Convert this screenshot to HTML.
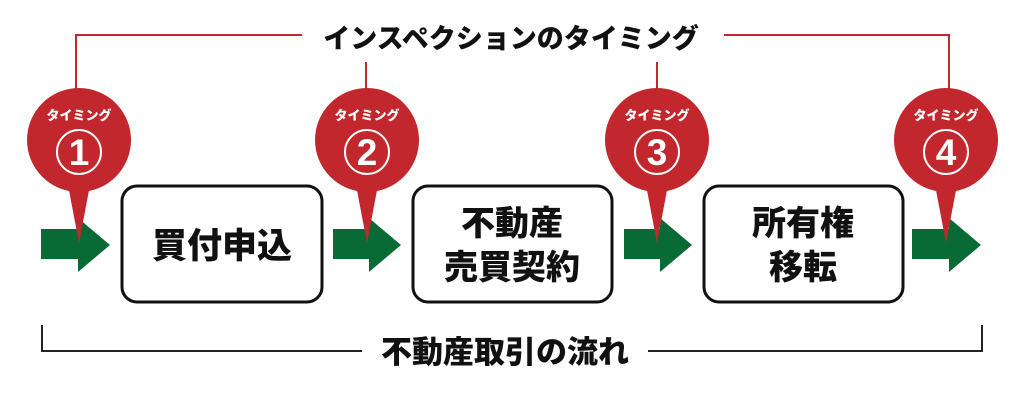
<!DOCTYPE html>
<html><head><meta charset="utf-8"><style>
html,body{margin:0;padding:0;background:#fff;}
svg{display:block;}
text{font-family:"Liberation Sans","Noto Sans CJK JP",sans-serif;font-weight:900;}
</style></head><body>
<svg width="1024" height="401" viewBox="0 0 1024 401" xmlns="http://www.w3.org/2000/svg">
<g stroke="#c1272d" stroke-width="2" fill="none">
<polyline points="76,90 76,35 302,35"/>
<line x1="366" y1="62" x2="366" y2="90"/>
<line x1="657" y1="62" x2="657" y2="90"/>
<polyline points="724,35 949,35 949,90"/>
</g>
<text x="511" y="48" font-size="27" text-anchor="middle" fill="#111">インスペクションのタイミング</text>
<g fill="#fff" stroke="#111" stroke-width="3">
<rect x="122" y="186" width="200" height="116" rx="15"/>
<rect x="413" y="186" width="199" height="116" rx="15"/>
<rect x="704" y="186" width="199" height="116" rx="15"/>
</g>
<g font-size="35" fill="#111" text-anchor="middle">
<text x="222" y="258">買付申込</text>
</g>
<g font-size="34" fill="#111" text-anchor="middle">
<text x="512" y="235">不動産</text>
<text x="512" y="279">売買契約</text>
<text x="803" y="235">所有権</text>
<text x="803" y="279">移転</text>
</g>
<g fill="#086b35">
<polygon points="41,229 78,229 78,218 110,245 78,272 78,259 41,259"/>
<polygon points="333,229 369,229 369,218 401,245 369,272 369,259 333,259"/>
<polygon points="624,229 660,229 660,218 692,245 660,272 660,259 624,259"/>
<polygon points="912,229 949,229 949,218 981,245 949,272 949,259 912,259"/>
</g>
<g fill="#c1272d">
<circle cx="79" cy="140" r="52"/><polygon points="68,185 90,185 79,243"/>
<circle cx="367" cy="140" r="52"/><polygon points="356,185 378,185 367,243"/>
<circle cx="657" cy="140" r="52"/><polygon points="646,185 668,185 657,243"/>
<circle cx="946" cy="140" r="52"/><polygon points="935,185 957,185 946,243"/>
</g>
<g fill="none" stroke="#fff" stroke-width="2">
<circle cx="79" cy="152" r="22"/><circle cx="367" cy="152" r="22"/>
<circle cx="657" cy="152" r="22"/><circle cx="946" cy="152" r="22"/>
</g>
<g fill="#fff" text-anchor="middle">
<g font-size="13">
<text x="79" y="120">タイミング</text><text x="367" y="120">タイミング</text>
<text x="657" y="120">タイミング</text><text x="946" y="120">タイミング</text>
</g>
<g font-size="37">
<text x="79" y="165">1</text><text x="367" y="165">2</text>
<text x="657" y="165">3</text><text x="946" y="165">4</text>
</g>
</g>
<g stroke="#222" stroke-width="2" fill="none">
<polyline points="42,325 42,351 362,351"/>
<polyline points="648,351 982,351 982,325"/>
</g>
<text x="505" y="363" font-size="31" text-anchor="middle" fill="#111">不動産取引の流れ</text>
</svg>
</body></html>
